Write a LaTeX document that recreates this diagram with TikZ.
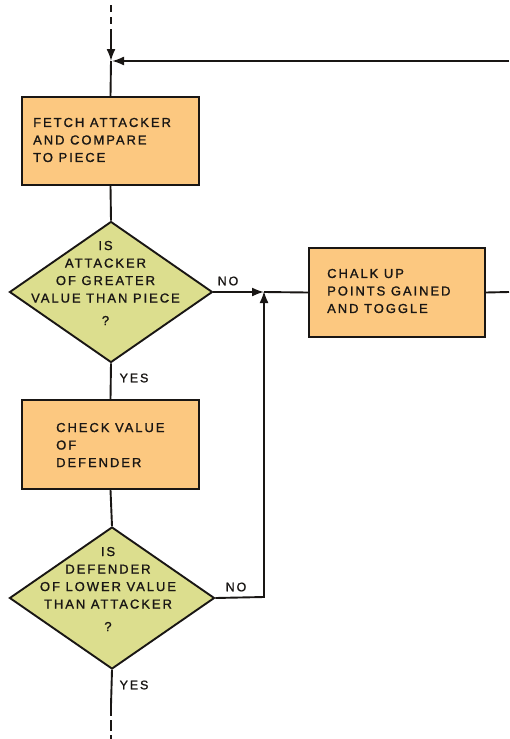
\documentclass[tikz,border=0pt]{standalone}
\usepackage{fontspec}
\setmainfont{Liberation Sans}[LetterSpace=15,FakeBold=1.2]
\usetikzlibrary{shapes.geometric,arrows.meta}
\definecolor{boxfill}{RGB}{252,200,128}
\definecolor{diafill}{RGB}{220,222,142}
\definecolor{ink}{RGB}{25,22,20}
\begin{document}
\begin{tikzpicture}[x=1pt,y=-1pt,
  every node/.style={font=\fontsize{13}{17.5}\selectfont, text=ink},
  procbox/.style={draw=ink, line width=2pt, fill=boxfill, minimum width=177pt, minimum height=88pt, inner sep=0pt},
  decide/.style={draw=ink, line width=1.9pt, fill=diafill, diamond, minimum width=203pt, minimum height=141pt, inner sep=0pt},
  conn/.style={draw=ink, line width=1.9pt},
  arr/.style={conn, -{Latex[length=12pt,width=9pt]}},
  lbl/.style={inner sep=0pt, font=\fontsize{12.5}{13}\selectfont}
]
\useasboundingbox (0,0) rectangle (509,739);
% coordinates
\coordinate (top) at (111,5);
\coordinate (dsh) at (111,31);
\coordinate (j) at (111,61);
\coordinate (fb) at (509,61);
\coordinate (j2) at (264,292);
\coordinate (cr) at (264,597);
\coordinate (out) at (509,292);
\coordinate (bs) at (111,705);
\coordinate (bot) at (111,739);
% nodes
\node[procbox] (b1) at (110.5,141) {};
\node[align=left, anchor=west, inner sep=0pt] (t1) at (33,140) {FETCH ATTACKER\\AND COMPARE\\TO PIECE};
\node[decide] (d1) at (111,292) {};
\node[align=center, inner sep=0pt] (t2) at (105.5,283) {IS\\ATTACKER\\OF GREATER\\VALUE THAN PIECE\\[5pt]?};
\node[procbox, minimum width=176pt, minimum height=89pt] (c1) at (397,292.5) {};
\node[align=left, anchor=west, inner sep=0pt] (t3) at (327,291) {CHALK UP\\POINTS GAINED\\AND TOGGLE};
\node[procbox, minimum height=89pt] (b3) at (110.5,444.5) {};
\node[align=left, anchor=west, inner sep=0pt] (t4) at (56,445) {CHECK VALUE\\OF\\DEFENDER};
\node[decide, minimum width=205pt, minimum height=142pt] (d2) at (112,598) {};
\node[align=center, inner sep=0pt] (t5) at (108,589) {IS\\DEFENDER\\OF LOWER VALUE\\THAN ATTACKER\\[5pt]?};
% labels
\node[lbl] (no1) at (228,281) {NO};
\node[lbl] (yes1) at (134,378) {YES};
\node[lbl] (no2) at (236,587) {NO};
\node[lbl] (yes2) at (134,685) {YES};
% connectors
\draw[conn, dash pattern=on 7pt off 5pt] (top) -- (dsh);
\draw[arr] (dsh) -- (j);
\draw[arr] (fb) -- ([xshift=1pt]j);
\draw[conn] (j) -- (b1.north);
\draw[conn] (b1.south) -- (d1.north);
\draw[arr] (d1.east) -- (j2);
\draw[conn] (j2) -- (c1.west);
\draw[conn] (c1.east) -- (out);
\draw[conn] (d1.south) -- (b3.north);
\draw[conn] (b3.south) -- (d2.north);
\draw[arr] (d2.east) -- (cr) -- ([yshift=1pt]j2);
\draw[conn] (d2.south) -- (bs);
\draw[conn, dash pattern=on 11pt off 4pt] (bs) -- (bot);
\end{tikzpicture}
\end{document}
